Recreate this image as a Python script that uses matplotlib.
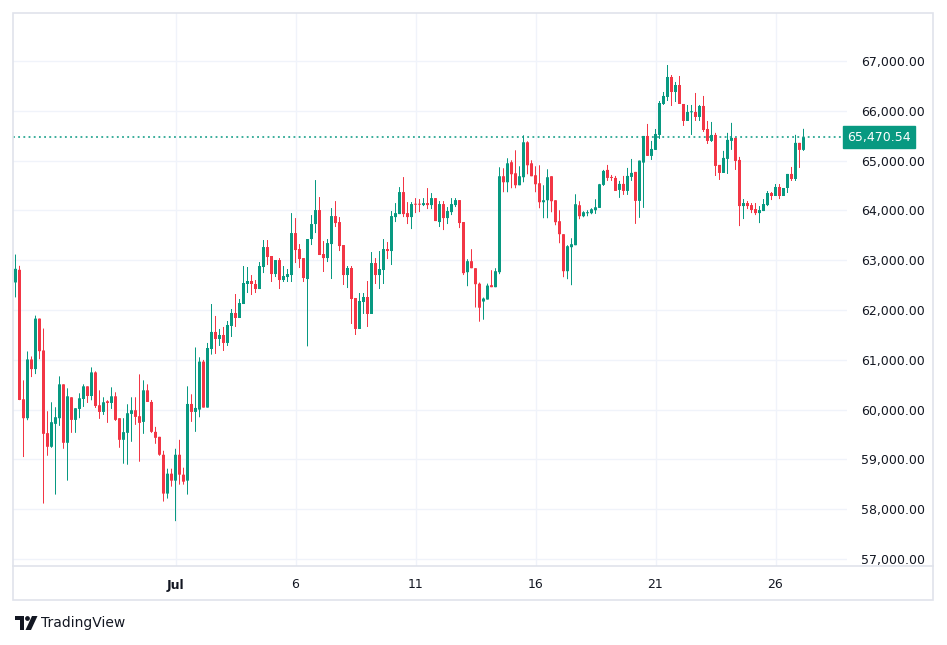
import numpy as np
import matplotlib.pyplot as plt
from matplotlib.patches import Rectangle, Polygon, Circle

# 4h candles, first one is Jun 24 08:00
opens = [62553, 62807, 60207, 59827, 61007, 60813, 61827, 61187, 59527, 59253,
         59713, 59827, 60507, 59333, 60247, 59793, 60013, 60213, 60467, 60273,
         60747, 60087, 59953, 60167, 60133, 60267, 59827, 59393, 59533, 59913,
         59987, 59867, 59753, 60387, 60153, 59553, 59453, 59093, 58313, 58713,
         58573, 59093, 58693, 58573, 60113, 59953, 60000, 60963, 60040, 61217,
         61559, 61418, 61498, 61338, 61679, 61940, 61839, 62120, 62522, 62582,
         62522, 62421, 62863, 63264, 63084, 62722, 63003, 62602, 62662, 62702,
         63545, 63224, 63043, 62622, 63425, 63726, 64007, 63124, 63043, 63324,
         63886, 63766, 63304, 62702, 62843, 62241, 61619, 62160, 62261, 61920,
         62943, 62702, 62803, 63224, 63184, 63866, 63926, 64368, 63946, 63866,
         64134, 64134, 64107, 64147, 64107, 64247, 63766, 64127, 63846, 63966,
         64107, 64207, 63766, 62759, 62980, 62839, 62528, 62170, 62210, 62498,
         62458, 62759, 64686, 64565, 64967, 64746, 64505, 64666, 65368, 64946,
         64706, 64545, 64164, 64204, 64686, 64204, 63783, 63522, 62779, 63261,
         63301, 64104, 63883, 63943, 63943, 64003, 64050, 64512, 64813, 64672,
         64652, 64411, 64532, 64391, 64672, 64773, 64191, 64960, 65495, 65094,
         65214, 65515, 66137, 66278, 66679, 66378, 66518, 66137, 65796, 65970,
         65977, 65876, 66097, 65635, 65395, 65515, 64913, 64752, 65034, 65396,
         65456, 65013, 64087, 64148, 64107, 64027, 63946, 63987, 64107, 64349,
         64289, 64470, 64289, 64450, 64732, 64631, 65356, 65215]
highs = [63113, 62887, 60587, 61167, 61067, 61887, 61827, 61627, 59967, 60147,
         60047, 60667, 60507, 60427, 60247, 60027, 60327, 60507, 60467, 60847,
         60767, 60387, 60247, 60187, 60447, 60347, 59827, 59827, 60107, 60247,
         60247, 60707, 60587, 60507, 60193, 59653, 59453, 59173, 58813, 58813,
         59213, 59393, 58833, 60467, 60307, 61247, 61050, 60997, 61338, 62120,
         61880, 61619, 61659, 61779, 62020, 62321, 62221, 62883, 62863, 62702,
         62602, 62963, 63405, 63405, 63084, 63003, 63043, 62883, 62823, 63946,
         63846, 63324, 63043, 63425, 63906, 64609, 64268, 63385, 63425, 64047,
         64187, 63866, 63304, 62883, 62883, 62241, 62341, 62341, 62582, 63164,
         63043, 63184, 63425, 63365, 63987, 64147, 64468, 64669, 64167, 64167,
         64247, 64227, 64247, 64448, 64348, 64247, 64187, 64187, 64067, 64247,
         64247, 64207, 63766, 63020, 63221, 62839, 62550, 62250, 62530, 62799,
         62839, 64866, 64846, 65047, 65007, 65207, 64886, 65508, 65388, 65007,
         64886, 64906, 64505, 64826, 64686, 64204, 64003, 63522, 63301, 63441,
         64324, 64184, 63983, 64003, 64043, 64224, 64532, 64813, 64913, 64712,
         64692, 64592, 64692, 64853, 65033, 64773, 65000, 65495, 65736, 65395,
         65635, 66197, 66378, 66920, 66719, 66579, 66699, 66137, 66117, 66117,
         66358, 66117, 66298, 65796, 65776, 65557, 64913, 65195, 65557, 65758,
         65456, 65074, 64228, 64188, 64148, 64148, 64087, 64228, 64389, 64369,
         64530, 64530, 64450, 64732, 64872, 65517, 65356, 65638]
lows = [62253, 60190, 59047, 59787, 60653, 60713, 61013, 58113, 59073, 59233,
        58293, 59673, 59213, 58573, 59533, 59533, 59827, 60053, 60133, 60187,
        60033, 59813, 59893, 59733, 60013, 59773, 59233, 58913, 58893, 59353,
        59693, 58953, 59513, 60153, 59533, 59313, 59073, 58153, 58213, 58453,
        57760, 58493, 58493, 58293, 59753, 59553, 59846, 60040, 60040, 61104,
        61117, 61278, 61177, 61278, 61458, 61659, 61839, 62120, 62341, 62301,
        62341, 62421, 62742, 62903, 62562, 62662, 62421, 62562, 62562, 62562,
        62943, 62843, 62562, 61270, 63304, 63545, 63104, 62763, 62963, 62622,
        63666, 63184, 62502, 62441, 61719, 61498, 61619, 61920, 61659, 61920,
        62522, 62421, 62522, 63023, 62903, 63766, 63926, 63866, 63726, 63625,
        63946, 63966, 64087, 64027, 64027, 63786, 63666, 63605, 63726, 63906,
        64067, 63645, 62702, 62478, 62839, 62050, 61765, 61805, 62210, 62458,
        62458, 62720, 64365, 64365, 64445, 64445, 64505, 64565, 64726, 64686,
        64365, 64043, 63843, 63843, 63963, 63702, 63341, 62659, 62619, 62498,
        63301, 63823, 63863, 63883, 63923, 63930, 64050, 64492, 64592, 64592,
        64391, 64251, 64311, 64311, 64592, 63729, 63850, 64050, 65094, 65013,
        65214, 65435, 66117, 66197, 66097, 66177, 66137, 65696, 65796, 65515,
        65796, 65796, 65575, 65334, 65375, 64691, 64611, 64752, 64732, 65215,
        64812, 63685, 63826, 64027, 63946, 63906, 63745, 63987, 64087, 64208,
        64289, 64228, 64289, 64349, 64591, 64591, 64852, 65195]
closes = [62827, 60193, 59827, 61007, 60813, 61827, 61173, 59513, 59253, 59747,
          59847, 60507, 59333, 60267, 59793, 60027, 60227, 60467, 60273, 60747,
          60073, 59953, 60147, 60133, 60267, 59793, 59393, 59547, 59927, 59987,
          59853, 59733, 60387, 60153, 59553, 59433, 59093, 58313, 58713, 58573,
          59093, 58693, 58553, 60113, 59953, 60033, 60963, 60040, 61237, 61559,
          61418, 61498, 61338, 61699, 61940, 61839, 62140, 62542, 62582, 62522,
          62421, 62883, 63264, 63064, 62722, 63003, 62602, 62682, 62722, 63545,
          63204, 63023, 62642, 63425, 63726, 64007, 63104, 63043, 63344, 63886,
          63746, 63284, 62702, 62843, 62221, 61619, 62181, 62261, 61920, 62943,
          62702, 62823, 63224, 63184, 63886, 63946, 64368, 63926, 63866, 64127,
          64114, 64114, 64147, 64107, 64247, 63786, 64127, 63846, 63987, 64127,
          64207, 63746, 62740, 62980, 62839, 62518, 62046, 62230, 62490, 62458,
          62779, 64686, 64565, 64946, 64726, 64505, 64686, 65368, 64906, 64686,
          64525, 64164, 64204, 64666, 64184, 63763, 63522, 62779, 63281, 63321,
          64124, 63883, 63963, 63963, 64023, 64063, 64525, 64793, 64652, 64652,
          64391, 64532, 64391, 64692, 64753, 64191, 65000, 65495, 65094, 65234,
          65535, 66157, 66298, 66679, 66378, 66518, 66137, 65796, 65977, 65990,
          65876, 66097, 65615, 65395, 65515, 64893, 64752, 65054, 65416, 65456,
          64993, 64087, 64148, 64087, 64007, 63946, 64007, 64128, 64349, 64289,
          64470, 64289, 64450, 64732, 64631, 65356, 65215, 65470.54]

date_ticks = [40, 70, 100, 130, 160, 190]
date_labels = ["Jul", "6", "11", "16", "21", "26"]
price_ticks = [57000, 58000, 59000, 60000, 61000, 62000, 63000, 64000, 65000, 66000, 67000]

UP = "#089981"
DOWN = "#F23645"
TXT = "#131722"
GRID = "#f0f3fa"
BORDER = "#e0e3eb"

W, H = 947, 645
fig = plt.figure(figsize=(W / 100, H / 100), dpi=100)
fig.patch.set_facecolor("white")

# main plot area in pixels: x 13..847, y 13..566
ax = fig.add_axes([13 / W, 1 - 566 / H, (847 - 13) / W, (566 - 13) / H])

o = np.array(opens, dtype=float)
h = np.array(highs, dtype=float)
l = np.array(lows, dtype=float)
c = np.array(closes, dtype=float)
x = np.arange(len(o))
colors = np.where(c >= o, UP, DOWN)

# exactly 4 px per candle, centres on pixel centres -> 3px bodies, 1px wicks
ax.vlines(x, l, h, colors=colors, linewidth=0.72, zorder=3, snap=False)
body_bottom = np.minimum(o, c)
body_height = np.maximum(np.abs(c - o), 18)
bars = ax.bar(x, body_height, bottom=body_bottom, width=0.75, color=colors, linewidth=0, zorder=4)
for b in bars:
    b.set_snap(False)

# last price line
last = c[-1]
ax.axhline(last, color=UP, linestyle=(0, (1.2, 2.2)), linewidth=1.1, zorder=2)

ax.set_xlim(-0.625, 207.875)
ax.set_ylim(56859, 67964)

ax.set_xticks(date_ticks)
ax.set_xticklabels(date_labels)
ax.set_yticks(price_ticks)
ax.set_yticklabels([f"{v:,.2f}" for v in price_ticks])
ax.yaxis.tick_right()
ax.tick_params(axis="y", length=0, pad=10, labelsize=9, labelcolor=TXT)
ax.tick_params(axis="x", length=0, pad=9, labelsize=9, labelcolor=TXT)
ax.get_xticklabels()[0].set_fontweight("bold")
ax.grid(True, color=GRID, linewidth=1)
ax.set_axisbelow(True)
for s in ax.spines.values():
    s.set_visible(False)

# price label box on the scale
ax.text(1.0, last, f"{last:,.2f}", transform=ax.get_yaxis_transform(),
        ha="left", va="center", fontsize=9, color="white", zorder=10, clip_on=False,
        bbox=dict(boxstyle="square,pad=0.35", fc=UP, ec=UP))

# overlay for the frame and the logo, pixel coords
ov = fig.add_axes([0, 0, 1, 1])
ov.set_xlim(0, W)
ov.set_ylim(H, 0)
ov.axis("off")
ov.patch.set_alpha(0)
ov.add_patch(Rectangle((13, 13), 933 - 13, 600 - 13, fill=False, ec=BORDER, lw=1.2))
ov.plot([13, 933], [566, 566], color=BORDER, lw=1.2)

# TradingView logo
ov.add_patch(Polygon([(15, 616), (24, 616), (24, 630), (20, 630), (20, 620), (15, 620)],
                     closed=True, fc=TXT, ec="none"))
ov.add_patch(Circle((27.5, 618.5), 2.4, fc=TXT, ec="none"))
ov.add_patch(Polygon([(32, 616), (37.5, 616), (31, 630), (25.5, 630)], closed=True, fc=TXT, ec="none"))
ov.text(41, 623, "TradingView", fontsize=10, color=TXT, va="center", ha="left")

fig.savefig("out.png", dpi=100, facecolor="white")
